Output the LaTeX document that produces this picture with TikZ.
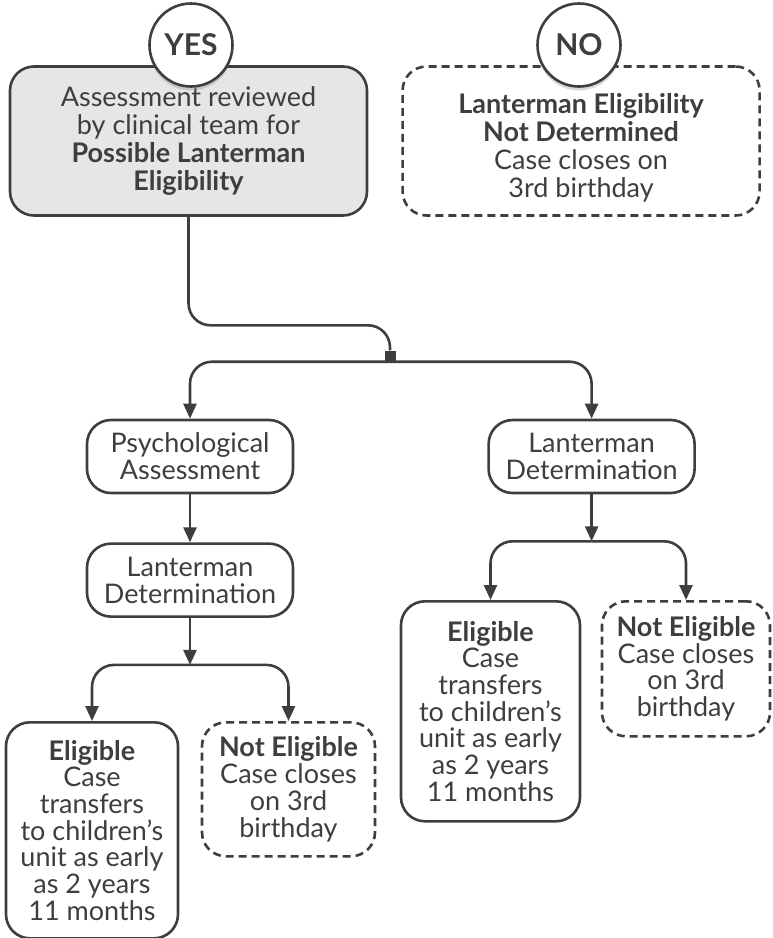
\documentclass[tikz,border=0pt]{standalone}
\usepackage{fontspec}
\setmainfont{Lato}
\usetikzlibrary{positioning, arrows.meta, shadows}
\definecolor{ink}{HTML}{3E3E3E}
\definecolor{shade}{HTML}{E6E6E6}
\tikzset{
    box/.style={draw=ink, line width=2.6pt, rounded corners=24pt, text=ink, align=center, inner sep=0pt},
    yesbox/.style={box, fill=shade, minimum width=357pt, minimum height=149pt, font=\fontsize{27}{28}\selectfont},
    nobox/.style={yesbox, fill=none, dash pattern=on 8pt off 5pt},
    stage/.style={box, minimum width=206pt, minimum height=73pt, font=\fontsize{27}{27}\selectfont},
    result/.style={box, anchor=north, font=\fontsize{27}{26.7}\selectfont},
    open/.style={result, dash pattern=on 8pt off 5pt},
    answer/.style={circle, draw=ink, fill=white, line width=2.6pt, minimum size=83pt, inner sep=0pt, text=ink,
        font=\bfseries\fontsize{30}{30}\selectfont, drop shadow={shadow xshift=0pt, shadow yshift=-4pt, opacity=.3}},
    splitbox/.style={rectangle, fill=ink, minimum size=11pt, inner sep=0pt},
    wire/.style={draw=ink, line width=2.6pt, rounded corners=22pt},
    flow/.style={wire, -{Triangle[length=15pt, width=13pt]}}
}
\begin{document}
\begin{tikzpicture}[x=1pt, y=-1pt]
    \useasboundingbox (0,0) rectangle (773,938);
	\node[yesbox] (review) at (188.5,141) {Assessment reviewed\\by clinical team for\\\textbf{Possible Lanterman}\\\textbf{Eligibility}};
    \node[nobox, right=33pt of review] (nodet) {\rule{0pt}{34pt}\textbf{Lanterman Eligibility}\\\textbf{Not Determined}\\Case closes on\\3rd birthday};
    \node[answer] (yes) at (191,45) {YES};
    \node[answer] (no) at (579,45) {NO};
    \node[splitbox] (split) at (390,356) {};
    \draw[wire] (review.south) |- ([yshift=25pt]split.north) coordinate (aux) -- (split.north);
    \node[stage] (psych) at (190,456.5) {Psychological\\Assessment};
    \node[stage, right=193pt of psych] (det2) {Lanterman\\Determination};
    \node[stage, below=48pt of psych] (det1) {Lanterman\\Determination};
    \draw[flow] (split.south) -| (psych.north);
    \draw[flow] (split.south) -| (det2.north);
    \draw[flow] (psych) -- (det1);
    \coordinate[below=47pt of det1] (fork1);
    \coordinate[below=47pt of det2] (fork2);
    \draw[flow] (det1) -- (fork1);
    \draw[flow] (det2) -- (fork2);
    \node[result, minimum width=172pt, minimum height=216pt] (elig1) at (92,721) {\textbf{Eligible}\\Case\\transfers\\to children’s\\unit as early\\as 2 years\\11 months};
    \node[open, minimum width=173pt, minimum height=134pt] (not1) at (288.5,721) {\textbf{Not Eligible}\\Case closes\\on 3rd\\birthday};
    \node[result, minimum width=179pt, minimum height=220pt] (elig2) at (490.5,600) {\textbf{Eligible}\\Case\\transfers\\to children’s\\unit as early\\as 2 years\\11 months};
    \node[open, minimum width=168pt, minimum height=135pt] (not2) at (686,600) {\textbf{Not Eligible}\\Case closes\\on 3rd\\birthday};
    \draw[flow] (fork1) -| (elig1.north);
    \draw[flow] (fork1) -| (not1.north);
    \draw[flow] (fork2) -| (elig2.north);
    \draw[flow] (fork2) -| (not2.north);
\end{tikzpicture}
\end{document}
